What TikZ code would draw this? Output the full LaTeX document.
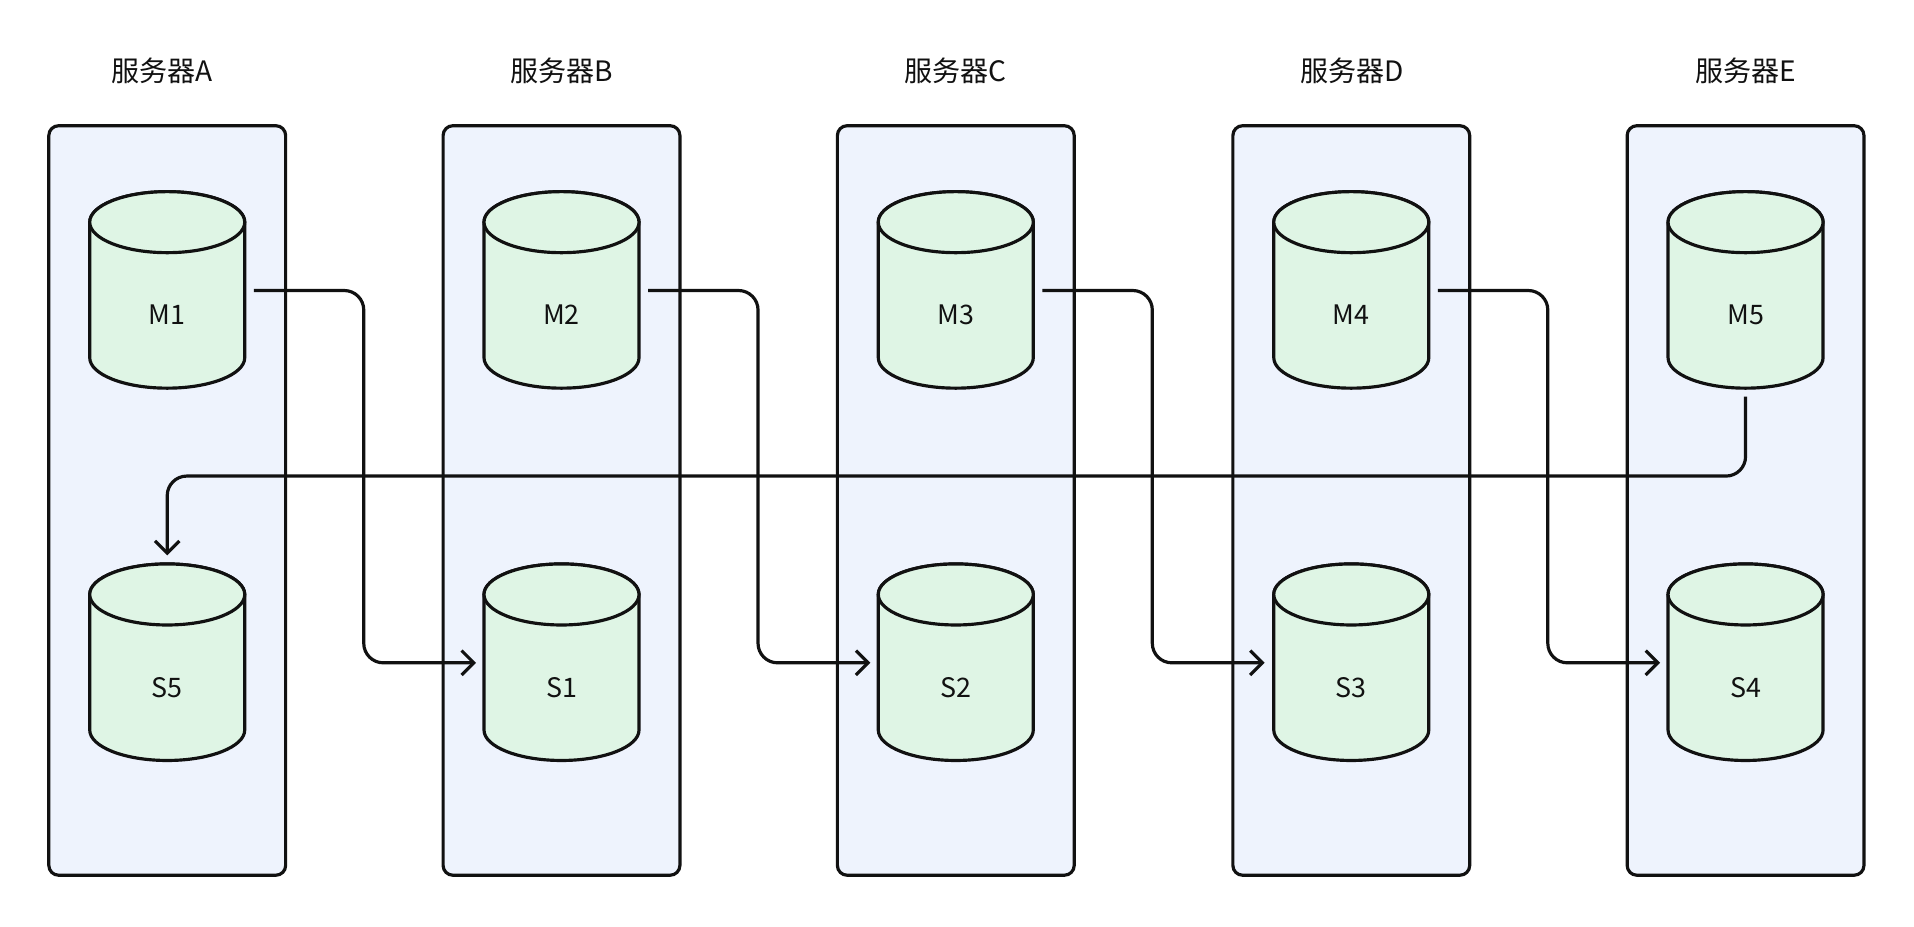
\documentclass[tikz,border=0pt]{standalone}
\usepackage{fontspec}
\setmainfont{Noto Sans CJK SC}
\usetikzlibrary{arrows.meta}
\definecolor{boxfill}{HTML}{EEF3FD}
\definecolor{cylfill}{HTML}{DFF5E5}
\definecolor{ink}{HTML}{111111}
\tikzset{
  box/.style={draw=ink,line width=1.3pt,fill=boxfill,rounded corners=4pt},
  cylshape/.style={draw=ink,line width=1.3pt,fill=cylfill},
  cyl/.style={minimum width=63.5pt,minimum height=80.5pt,inner sep=0pt,font=\fontsize{11}{13}\selectfont,text=ink},
  title/.style={font=\fontsize{11.5}{13}\selectfont,text=ink},
  conn/.style={draw=ink,line width=1.3pt,rounded corners=8pt,-{Straight Barb[length=5pt,width=10pt,line width=1.3pt]}}
}
\newcommand{\mycyl}[4]{%
  \begin{scope}[shift={(#2,#3)}]
    \draw[cylshape] (-63.5,55.5) -- (-63.5,-55.5) arc[start angle=180,end angle=360,x radius=63.5,y radius=25] -- (63.5,55.5) arc[start angle=0,end angle=180,x radius=63.5,y radius=25] -- cycle;
    \draw[cylshape] (0,55.5) ellipse[x radius=63.5,y radius=25];
  \end{scope}
  \node[cyl] (#1) at (#2,#3-20.5) {#4};
}
\begin{document}
\begin{tikzpicture}[x=0.5pt,y=0.5pt]
\useasboundingbox (0,0) rectangle (1568,-759);
\foreach \n/\x/\tx/\t in {A/137/133/服务器A,B/460/460/服务器B,C/783/783/服务器C,D/1107/1108/服务器D,E/1430/1430/服务器E}{
  \node[box,minimum width=97pt,minimum height=307pt] (box\n) at (\x,-410) {};
  \node[title] (t\n) at (\tx,-58) {\t};
}
\foreach \i/\x in {1/137,2/460,3/783,4/1107,5/1430}{
  \mycyl{M\i}{\x}{-237.5}{M\i}
}
\mycyl{S5}{137}{-542.5}{S5}
\mycyl{S1}{460}{-542.5}{S1}
\mycyl{S2}{783}{-542.5}{S2}
\mycyl{S3}{1107}{-542.5}{S3}
\mycyl{S4}{1430}{-542.5}{S4}
\coordinate (m1o) at (208,-238); \coordinate (s1i) at (390,-543);
\coordinate (m2o) at (531,-238); \coordinate (s2i) at (713,-543);
\coordinate (m3o) at (854,-238); \coordinate (s3i) at (1036,-543);
\coordinate (m4o) at (1178,-238); \coordinate (s4i) at (1360,-543);
\draw[conn] (m1o) -- ++(90,0) |- (s1i);
\draw[conn] (m2o) -- ++(90,0) |- (s2i);
\draw[conn] (m3o) -- ++(90,0) |- (s3i);
\draw[conn] (m4o) -- ++(90,0) |- (s4i);
\coordinate (m5o) at (1430,-325); \coordinate (s5i) at (137,-455);
\draw[conn] (m5o) -- ++(0,-65) -| (s5i);
\end{tikzpicture}
\end{document}
